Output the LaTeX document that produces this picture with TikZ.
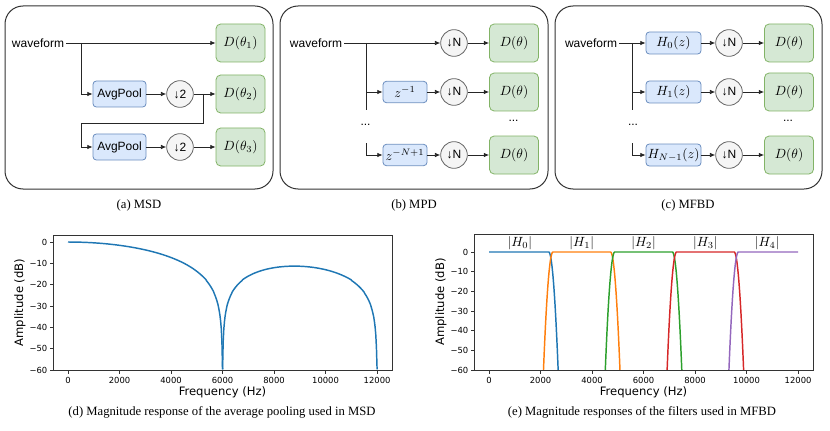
\documentclass[tikz,border=0pt]{standalone}
\usepackage{fontspec}
\setmainfont{Liberation Serif}
\newfontfamily\dsans{Liberation Sans}
\newfontfamily\mpl{DejaVu Sans}
\usetikzlibrary{arrows.meta}
\definecolor{bfill}{HTML}{DAE8FC}
\definecolor{bdraw}{HTML}{6C8EBF}
\definecolor{gfill}{HTML}{D5E8D4}
\definecolor{gdraw}{HTML}{82B366}
\definecolor{cfill}{HTML}{F5F5F5}
\definecolor{cdraw}{HTML}{666666}
\definecolor{tabA}{HTML}{1F77B4}
\definecolor{tabB}{HTML}{FF7F0E}
\definecolor{tabC}{HTML}{2CA02C}
\definecolor{tabD}{HTML}{D62728}
\definecolor{tabE}{HTML}{9467BD}
\begin{document}
\begin{tikzpicture}[x=0.75pt,y=-0.75pt,
  declare function={E(\d)=-(0.02112*max(\d+82,0))^2;},
  panel/.style={draw=black!80, line width=0.75pt, rounded corners=13.5pt},
  txt/.style={font=\dsans\fontsize{9}{10}\selectfont, inner sep=1.5pt},
  bbox/.style={draw=bdraw, fill=bfill, rounded corners=2.5pt, line width=0.6pt, inner sep=0pt,
     minimum width=39.75pt, minimum height=19.5pt, font=\dsans\fontsize{9}{10}\selectfont},
  zbox/.style={bbox, minimum width=33pt, minimum height=16pt, font=\fontsize{10}{12}\selectfont},
  hbox/.style={bbox, minimum width=41.25pt, minimum height=16.5pt, font=\fontsize{10}{12}\selectfont},
  gbox/.style={draw=gdraw, fill=gfill, rounded corners=3.5pt, line width=0.6pt, inner sep=0pt,
     minimum width=36.75pt, minimum height=28.5pt, font=\fontsize{10}{12}\selectfont},
  circ/.style={circle, draw=cdraw, fill=cfill, line width=0.6pt, inner sep=0pt,
     minimum size=20pt, font=\dsans\fontsize{9}{10}\selectfont},
  conn/.style={draw=black!85, line width=0.6pt, -{Latex[length=4pt,width=3.5pt]}},
  wire/.style={draw=black!85, line width=0.6pt},
  captxt/.style={font=\fontsize{9.5}{11}\selectfont, inner sep=0pt},
  axisline/.style={draw=black!80, line width=0.6pt},
  ticktxt/.style={font=\mpl\fontsize{6.3}{7}\selectfont, inner sep=0pt},
  axlab/.style={font=\mpl\fontsize{8.7}{10}\selectfont, inner sep=0pt},
  curve/.style={line width=1.1pt, line join=round}
]
\useasboundingbox (0,0) rectangle (830,431);

% ---------- panels
\draw[panel] (5,6) rectangle (273,189);
\draw[panel] (280,6) rectangle (548,189);
\draw[panel] (555,6) rectangle (822,189);

% ---------- (a) MSD
\node[txt] (wa) at (38,43) {waveform};
\node[gbox] (Da1) at (240.5,43) {$D(\theta_1)$};
\node[gbox] (Da2) at (240.5,94) {$D(\theta_2)$};
\node[gbox] (Da3) at (240.5,147) {$D(\theta_3)$};
\node[bbox] (Pa1) at (119.5,94) {AvgPool};
\node[bbox] (Pa2) at (119.5,147) {AvgPool};
\node[circ] (Ca1) at (180,94) {↓2};
\node[circ] (Ca2) at (180,147) {↓2};
\coordinate (ba0) at (81,43);
\coordinate (sa0) at (203,94);
\coordinate (sa1) at (203,123);
\coordinate (sa2) at (81,123);
\draw[conn] (wa) -- (Da1);
\draw[conn] (ba0) |- (Pa1);
\draw[conn] (Pa1) -- (Ca1);
\draw[conn] (Ca1) -- (Da2);
\draw[conn] (sa0) -- (sa1) -- (sa2) |- (Pa2);
\draw[conn] (Pa2) -- (Ca2);
\draw[conn] (Ca2) -- (Da3);

% ---------- (b) MPD
\node[txt] (wb) at (316,43) {waveform};
\node[circ] (Nb0) at (454,43) {↓N};
\node[circ] (Nb1) at (454,92) {↓N};
\node[circ] (Nb2) at (454,155) {↓N};
\node[gbox] (Db0) at (514,43) {$D(\theta)$};
\node[gbox] (Db1) at (514,92) {$D(\theta)$};
\node[gbox] (Db2) at (514,155) {$D(\theta)$};
\node[zbox] (Zb1) at (405,92) {$z^{-1}$};
\node[zbox] (Zb2) at (405,155) {$z^{-N+1}$};
\node[txt] (dbl) at (365.5,125) {...};
\node[txt] (dbr) at (513.5,121) {...};
\coordinate (bb0) at (366,43);
\coordinate (bb1) at (366,110);
\coordinate (bb2) at (366,92);
\coordinate (bb3) at (366,143);
\draw[conn] (wb) -- (Nb0);
\draw[conn] (Nb0) -- (Db0);
\draw[wire] (bb0) -- (bb1);
\draw[conn] (bb2) -- (Zb1);
\draw[conn] (Zb1) -- (Nb1);
\draw[conn] (Nb1) -- (Db1);
\draw[conn] (bb3) |- (Zb2);
\draw[conn] (Zb2) -- (Nb2);
\draw[conn] (Nb2) -- (Db2);

% ---------- (c) MFBD
\node[txt] (wc) at (591,43) {waveform};
\node[hbox] (Hc0) at (673.5,43) {$H_0(z)$};
\node[hbox] (Hc1) at (673.5,92) {$H_1(z)$};
\node[hbox] (Hc2) at (673.5,155) {$H_{N-1}(z)$};
\node[circ] (Nc0) at (729,43) {↓N};
\node[circ] (Nc1) at (729,92) {↓N};
\node[circ] (Nc2) at (729,155) {↓N};
\node[gbox] (Dc0) at (789,43) {$D(\theta)$};
\node[gbox] (Dc1) at (789,92) {$D(\theta)$};
\node[gbox] (Dc2) at (789,155) {$D(\theta)$};
\node[txt] (dcl) at (633,125) {...};
\node[txt] (dcr) at (788,121) {...};
\coordinate (cb0) at (632,43);
\coordinate (cb1) at (632,110);
\coordinate (cb2) at (632,92);
\coordinate (cb3) at (632,143);
\draw[conn] (wc) -- (Hc0);
\draw[conn] (Hc0) -- (Nc0);
\draw[conn] (Nc0) -- (Dc0);
\draw[wire] (cb0) -- (cb1);
\draw[conn] (cb2) -- (Hc1);
\draw[conn] (Hc1) -- (Nc1);
\draw[conn] (Nc1) -- (Dc1);
\draw[conn] (cb3) |- (Hc2);
\draw[conn] (Hc2) -- (Nc2);
\draw[conn] (Nc2) -- (Dc2);

% ---------- captions
\node[captxt] (capa) at (139,205) {(a) MSD};
\node[captxt] (capb) at (414,205) {(b) MPD};
\node[captxt] (capc) at (688,205) {(c) MFBD};
\node[captxt] (capd) at (222,412) {(d) Magnitude response of the average pooling used in MSD};
\node[captxt] (cape) at (642,412) {(e) Magnitude responses of the filters used in MFBD};

% ---------- (d) plot
\begin{scope}
\clip (53,235) rectangle (392,370);
\draw[curve, tabA] (68,242) -- plot[domain=50:6000, samples=240]
  ({68+\x*0.02575},{242-42.667*log10(max(abs(sin(0.03*\x)/(4*sin(0.0075*\x))),0.001))});
\draw[curve, tabA] plot[domain=6000:12000, samples=240]
  ({68+\x*0.02575},{242-42.667*log10(max(abs(sin(0.03*\x)/(4*sin(0.0075*\x))),0.001))});
\end{scope}
\draw[axisline] (53,235) rectangle (392,370);
\foreach \f in {0,2000,...,12000} {
  \draw[axisline] ({68+\f*0.02575},370) -- ++(0,3.5);
  \node[ticktxt] at ({68+\f*0.02575},380) {\f};
}
\foreach \v/\l in {0/0,10/−10,20/−20,30/−30,40/−40,50/−50,60/−60} {
  \draw[axisline] (53,{242+\v*2.1333}) -- ++(-3.5,0);
  \node[ticktxt, anchor=east] at (47.5,{242+\v*2.1333}) {\l};
}
\node[axlab] (xlabd) at (222.5,392) {Frequency (Hz)};
\node[axlab, rotate=90] (ylabd) at (20,302.5) {Amplitude (dB)};

% ---------- (e) plot
\begin{scope}
\clip (474,234) rectangle (813,370);
\draw[curve, tabA] (489,252) -- plot[domain=2300:2720, samples=80]
  ({489+\x*0.02575},{252-1.9667*E(\x-2400)});
\draw[curve, tabB] plot[domain=2080:2500, samples=80]
  ({489+\x*0.02575},{252-1.9667*E(2400-\x)}) -- plot[domain=4700:5120, samples=80]
  ({489+\x*0.02575},{252-1.9667*E(\x-4800)});
\draw[curve, tabC] plot[domain=4480:4900, samples=80]
  ({489+\x*0.02575},{252-1.9667*E(4800-\x)}) -- plot[domain=7100:7520, samples=80]
  ({489+\x*0.02575},{252-1.9667*E(\x-7200)});
\draw[curve, tabD] plot[domain=6880:7300, samples=80]
  ({489+\x*0.02575},{252-1.9667*E(7200-\x)}) -- plot[domain=9500:9920, samples=80]
  ({489+\x*0.02575},{252-1.9667*E(\x-9600)});
\draw[curve, tabE] plot[domain=9280:9700, samples=80]
  ({489+\x*0.02575},{252-1.9667*E(9600-\x)}) -- ({489+12000*0.02575},252);
\end{scope}
\draw[axisline] (474,234) rectangle (813,370);
\foreach \f in {0,2000,...,12000} {
  \draw[axisline] ({489+\f*0.02575},370) -- ++(0,3.5);
  \node[ticktxt] at ({489+\f*0.02575},380) {\f};
}
\foreach \v/\l in {0/0,10/−10,20/−20,30/−30,40/−40,50/−50,60/−60} {
  \draw[axisline] (474,{252+\v*1.9667}) -- ++(-3.5,0);
  \node[ticktxt, anchor=east] at (468.5,{252+\v*1.9667}) {\l};
}
\foreach \k in {0,1,2,3,4} {
  \node[font=\fontsize{10}{12}\selectfont, inner sep=0pt] at ({489+(1200+2400*\k)*0.02575},243) {$|H_{\k}|$};
}
\node[axlab] (xlabe) at (643.5,392) {Frequency (Hz)};
\node[axlab, rotate=90] (ylabe) at (441,302) {Amplitude (dB)};
\end{tikzpicture}
\end{document}
